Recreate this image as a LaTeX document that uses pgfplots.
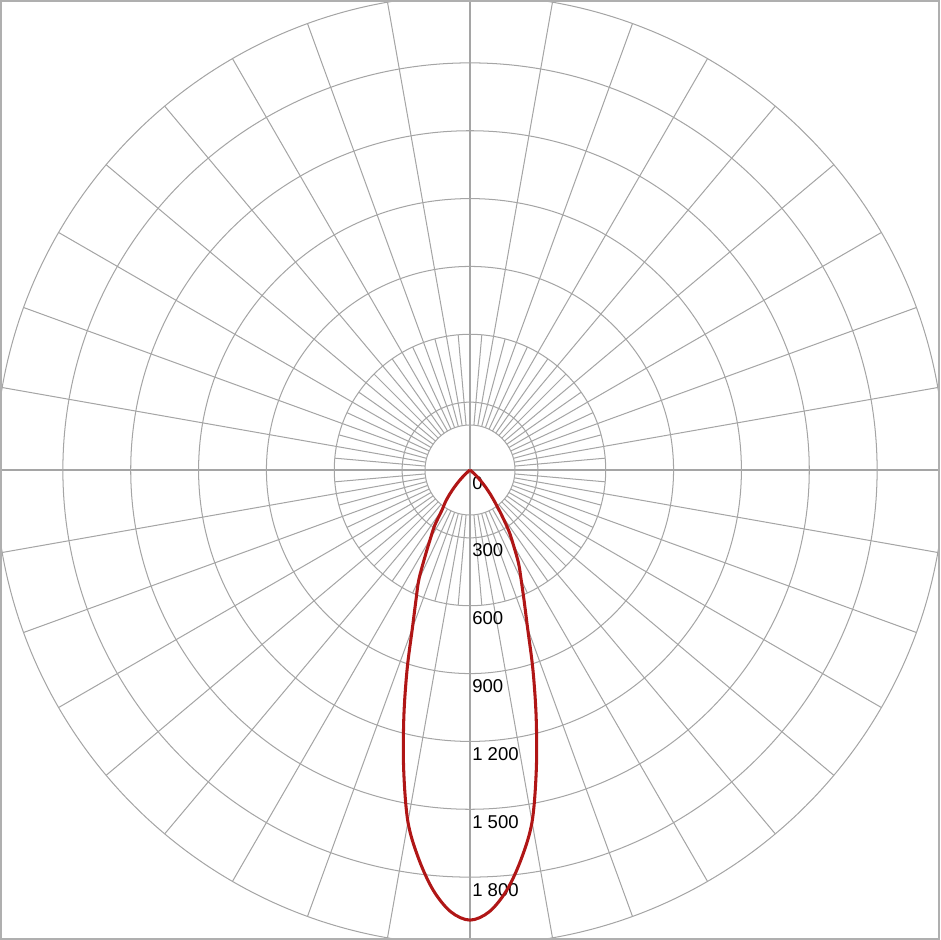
\documentclass[border=0pt]{standalone}
\usepackage{fontspec}
\setmainfont{Liberation Sans}
\usepackage{pgfplots}
\pgfplotsset{compat=1.18}
\definecolor{gridc}{RGB}{165,165,165}
\definecolor{framec}{RGB}{175,175,175}
\definecolor{curvec}{RGB}{176,22,22}
\begin{document}
\begin{tikzpicture}
\begin{scope}
\clip (-207.35pt,-207.35pt) rectangle (207.35pt,207.35pt);
\begin{scope}[gridc, line width=0.45pt]
\foreach \k in {1,...,7} \draw (0,0) circle[radius=\k*30pt];
\draw (0,0) circle[radius=19.9pt];
\foreach \a in {10,20,...,350} \draw (\a:19.9pt) -- (\a:210pt);
\foreach \a in {5,15,...,355} \draw (\a:19.9pt) -- (\a:60pt);
\draw (-210pt,0) -- (210pt,0);
\draw (0,-210pt) -- (0,210pt);
\end{scope}
\foreach \v/\t in {0/0,1/300,2/600,3/900,4/1 200,5/1 500,6/1 800}
  \node[anchor=west, inner sep=0pt, font=\fontsize{8.2pt}{10pt}\selectfont] at (0.8pt,{-\v*30pt-5.6pt}) {\t};
\end{scope}
\begin{axis}[at={(0,0)}, anchor=center, x=0.1pt, y=0.1pt,
  xmin=-2073.5, xmax=2073.5, ymin=-2073.5, ymax=2073.5,
  xtick=\empty, ytick=\empty,
  axis line style={draw=framec, line width=0.9pt}]
\addplot[curvec, line width=1.35pt, smooth, tension=0.55, data cs=polar] coordinates {
(217.5,0) (220,12) (222.5,35) (225,65) (227.5,100) (230,140) (232.5,180)
(235,215) (237.5,290) (240,350) (242.5,430) (245,535) (247.5,625)
(250,745) (252.5,925) (255,1130) (257.5,1355) (260,1580) (262.5,1735)
(265,1865) (267.5,1955) (270,1990) (272.5,1955) (275,1865) (277.5,1735)
(280,1580) (282.5,1355) (285,1130) (287.5,925) (290,745) (292.5,625)
(295,535) (297.5,465) (300,385) (302.5,320) (305,245) (307.5,185)
(310,140) (312.5,100) (315,65) (317.5,35) (320,12) (322.5,0)
};
\end{axis}
\end{tikzpicture}
\end{document}
